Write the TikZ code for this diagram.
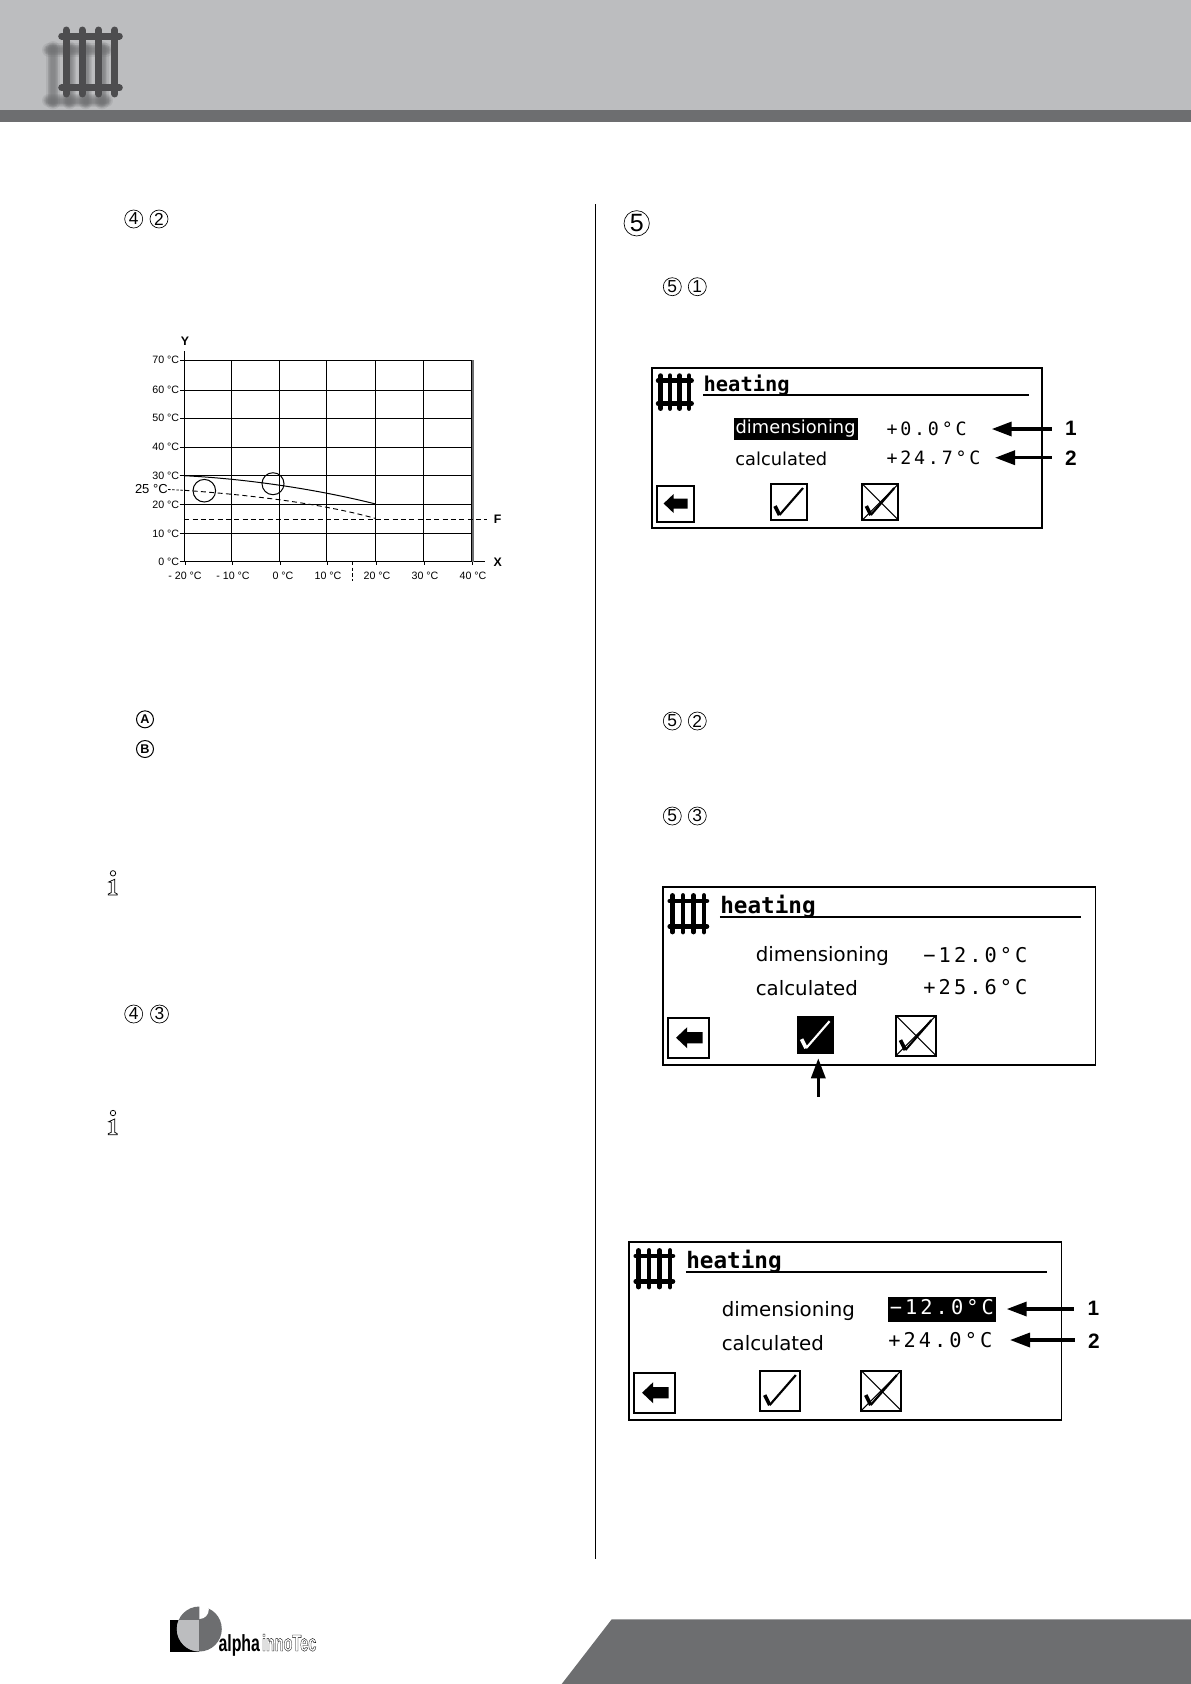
\documentclass[tikz,border=0pt]{standalone}
\usepackage{fontspec}
\setmainfont{Liberation Sans}
\newfontfamily\lcdfont{DejaVu Sans}
\newfontfamily\lcdnumfont{DejaVu Sans Mono}[LetterSpace=15]
\newfontfamily\lcdtitlefont{DejaVu Sans Mono}
\usetikzlibrary{arrows.meta}
\usetikzlibrary{positioning}
\definecolor{headgrey}{HTML}{BCBDBF}
\definecolor{bargrey}{HTML}{6D6E70}
\definecolor{radgrey}{HTML}{4D4D4F}
\tikzset{
	gridline/.style = {line width = 0.6pt},
	curveline/.style = {line width = 0.6pt},
	dashline/.style = {line width = 0.55pt, dash pattern = on 3pt off 2pt},
	axislabel/.style = {font = \fontsize{6.4}{7}\selectfont, inner sep = 0pt},
	axisletter/.style = {font = \fontsize{7.4}{8}\selectfont\bfseries, inner sep = 0pt},
	circnum/.style = {circle, draw, line width = 0.4pt, minimum size = 10.8pt, inner sep = 0pt, font = \fontsize{10.4}{11}\selectfont},
	circletter/.style = {circle, draw, line width = 0.6pt, minimum size = 10.2pt, inner sep = 0pt, font = \fontsize{7.6}{8}\selectfont\bfseries},
	lcdtext/.style = {anchor = west, inner sep = 0pt, font = \fontsize{10.7}{12}\lcdfont},
	lcdsel/.style = {lcdtext, fill = black, text = white, inner sep = 1.2pt, text height = 8.4pt, text depth = 2.6pt},
	lcdnum/.style = {anchor = west, inner sep = 0pt, font = \fontsize{11}{12}\lcdnumfont},
	lcdnumsel/.style = {lcdnum, fill = black, text = white, inner sep = 1.2pt, text height = 8.4pt, text depth = 2.6pt},
	scrarrow/.style = {line width = 2pt, -{Triangle[length = 12pt, width = 8.4pt]}},
	arrownum/.style = {font = \fontsize{12.5}{13}\selectfont\bfseries, inner sep = 0pt, minimum width = 23pt},
}
\newcommand{\radiator}[2]{\draw[#1] (0,-#2) -- (0,23+#2);
					\draw[#1] (9.4,-#2) -- (9.4,23+#2);
					\draw[#1] (19,-#2) -- (19,23+#2);
					\draw[#1] (28.4,-#2) -- (28.4,23+#2);
					\draw[#1] (-2.5,0) -- (31,0);
					\draw[#1] (-2.5,23) -- (31,23);}
\newcommand{\backbtn}{\draw[line width = 1.1pt] (0,0) rectangle (37,36);
					\fill (7,17.5) -- (17,8) -- (17,12.5) -- (31,12.5) -- (31,22.5) -- (17,22.5) -- (17,27) -- cycle;}
\newcommand{\checkbtn}[2]{\draw[line width = 1.1pt, fill = #1] (0,0) rectangle (36,36);
					\draw[#2, line width = 2.2pt] (4,22) -- (8.5,31);
					\draw[#2, line width = 1.3pt] (8.5,31) -- (32,4);}
\newcommand{\crossbtn}{\checkbtn{white}{black}
					\draw[line width = 0.6pt] (0,0) -- (36,36);
					\draw[line width = 0.6pt] (0,36) -- (36,0);}
\newcommand{\screenframe}{\begin{scope}[shift = {(8.3,12.3)}]
						\radiator{line width = 2.8pt, line cap = round}{5}
					\end{scope}
					\node[anchor = base west, inner sep = 0pt, font = \fontsize{12.25}{13}\lcdtitlefont\bfseries] (title) at (51,23.5) {heating};
					\draw[line width = 1.1pt] (51,26.7) -- (376.7,26.7);}
\newcommand{\infoicon}{\draw[line width = 0.45pt] (0,-10) circle (2.7);
					\draw[line width = 0.45pt, fill = white] (-4.3,-1.3) -- (1.7,-4) -- (1.7,9.3) -- (4.3,10.7) -- (4.3,11.7) -- (-4.7,11.7) -- (-4.7,10.7) -- (-1.7,9.3) -- (-1.7,-0.8) -- cycle;}

\begin{document}
\begin{tikzpicture}[x = 0.6pt, y = -0.6pt]
	\useasboundingbox (0,0) rectangle (1191,1684);

	\fill[headgrey] (0,0) rectangle (1191,110);
	\fill[bargrey] (0,110) rectangle (1191,122);

	\begin{scope}[shift = {(53,50)}, xscale = 1.72, yscale = 2.2]
		\foreach \wd in {8,6.5,5.5,4.5,3.5,2.5}{
			\radiator{bargrey, opacity = 0.16, line width = \wd pt, line cap = round}{1}
		}
	\end{scope}

	\begin{scope}[shift = {(66,36)}, xscale = 1.72, yscale = 2.26]
		\radiator{radgrey, line width = 4.2pt, line cap = round}{2.65}
	\end{scope}

	\fill[bargrey] (611.7,1619.3) -- (1191,1619.3) -- (1191,1684) -- (561.7,1684) -- cycle;

	\draw[line width = 0.7pt] (595.3,204) -- (595.3,1559);

	% markers left column
	\node[circnum] (fourA) at (133.7,219) {4};
	\node[circnum] (twoA) at (159,219) {2};
	\node[circletter] (letA) at (145,719.3) {A};
	\node[circletter] (letB) at (145,749) {B};
	\node[circnum] (fourB) at (133.7,1014) {4};
	\node[circnum] (threeB) at (159.5,1014) {3};

	\begin{scope}[shift = {(113,883.3)}]
		\infoicon
	\end{scope}

	\begin{scope}[shift = {(113,1123)}]
		\infoicon
	\end{scope}

	% markers right column
	\node[circnum, minimum size = 15.2pt, font = \fontsize{15}{16}\selectfont] (bigfive) at (636.7,223.3) {5};
	\node[circnum] (fiveA) at (672.3,286.7) {5};
	\node[circnum] (oneA) at (697.3,286.7) {1};
	\node[circnum] (fiveB) at (672.3,721) {5};
	\node[circnum] (twoB) at (697.3,721) {2};
	\node[circnum] (fiveC) at (672.3,816) {5};
	\node[circnum] (threeC) at (697.3,816) {3};

	% chart
	\foreach \px in {184.3,231.3,279.3,326.3,375.7,423.3,471.7}{
		\draw[gridline] (\px,360.3) -- (\px,561.7);
		\draw[gridline] (\px+1,561.7) -- (\px+1,565);
	}
	\foreach \py in {360.3,390.3,418.3,447.3,475.7,504.7,533.7}{
		\draw[gridline] (179.5,\py) -- (471.7,\py);
	}
	\draw[gridline] (179.5,561.7) -- (485,561.7);
	\draw[gridline] (184.3,351) -- (184.3,561.7);
	\draw[line width = 0.9pt, bargrey] (473.2,360.3) -- (473.2,561.7);

	\foreach \py/\yt/\yn in {360.3/70/ya,390.3/60/yb,418.3/50/yc,447.3/40/yd,475.7/30/ye,504.7/20/yf,533.7/10/yg,561.7/0/yh}{
		\node[axislabel, anchor = east] (\yn) at (179.5,\py) {\yt~°C};
	}
	\foreach \px/\xt/\xn in {185/- 20/xa,233/- 10/xb,283/0/xc,328/10/xd,377/20/xe,425/30/xf,473/40/xg}{
		\node[axislabel] (\xn) at (\px,575.7) {\xt~°C};
	}
	\node[axisletter] (lety) at (185,341) {Y};
	\node[axisletter] (letx) at (497.7,562.3) {X};
	\node[axisletter] (letf) at (497.7,519.3) {F};
	\node[axislabel, anchor = east, font = \fontsize{7.8}{9}\selectfont] (twofive) at (168,489.5) {25 °C};

	\draw[curveline] (184.3,475.7) .. controls (250,479) and (320,490) .. (375.7,504);
	\draw[dashline] (184.3,490.3) .. controls (250,495) and (320,503) .. (375.7,518.5);
	\draw[dashline] (184.3,519.3) -- (487,519.3);
	\draw[line width = 0.5pt, dash pattern = on 1.5pt off 1pt] (twofive.east) -- (184.3,490.3);
	\draw[line width = 0.5pt, dash pattern = on 2pt off 1.5pt] (352.5,561.7) -- (352.5,581);
	\draw[curveline] (204.3,490.7) circle (11.3);
	\draw[curveline] (273,483.7) circle (11);

	% first screen
	\begin{scope}[shift = {(652.3,368.3)}, transform shape]
		\draw[line width = 1.1pt] (0,0) rectangle (389.4,160);
		\screenframe
		\node[lcdsel] (dimone) at (81,60.7) {dimensioning};
		\node[lcdtext] (calcone) at (82.7,90.7) {calculated};
		\node[lcdnum] (valone) at (234,60.7) {+0.0°C};
		\node[lcdnum] (valtwo) at (234,90) {+24.7°C};
		\begin{scope}[shift = {(4.3,117.7)}]
			\backbtn
		\end{scope}
		\begin{scope}[shift = {(118.7,115.7)}]
			\checkbtn{white}{black}
		\end{scope}
		\begin{scope}[shift = {(210,115.7)}]
			\crossbtn
		\end{scope}
	\end{scope}
	\coordinate (tipone) at (991.7,429);
	\coordinate (tiptwo) at (995,457.7);
	\node[arrownum] (numone) at (1071,428) {1};
	\node[arrownum] (numtwo) at (1071,458) {2};
	\draw[scrarrow] (numone.west |- tipone) -- (tipone);
	\draw[scrarrow] (numtwo.west |- tiptwo) -- (tiptwo);

	% second screen
	\begin{scope}[shift = {(663.3,887.3)}, scale = 1.11, transform shape]
		\draw[line width = 1.1pt] (0,0) rectangle (389.4,160);
		\screenframe
		\node[lcdtext] (dimthree) at (83,61.5) {dimensioning};
		\node[lcdtext] (calcthree) at (83,91) {calculated};
		\node[lcdnum] (valthree) at (234,61.5) {−12.0°C};
		\node[lcdnum] (valfour) at (234,90) {+25.6°C};
		\begin{scope}[shift = {(4.5,118)}]
			\backbtn
		\end{scope}
		\begin{scope}[shift = {(121,117)}, scale = 0.9]
			\checkbtn{black}{white}
		\end{scope}
		\begin{scope}[shift = {(209.6,115.6)}]
			\crossbtn
		\end{scope}
	\end{scope}
	\coordinate (tipthree) at (818.3,1058.3);
	\coordinate (tailthree) at (818.3,1096.7);
	\draw[scrarrow] (tailthree) -- (tipthree);

	% third screen
	\begin{scope}[shift = {(629.3,1242.3)}, scale = 1.11, transform shape]
		\draw[line width = 1.1pt] (0,0) rectangle (389.4,160);
		\screenframe
		\node[lcdtext] (dimfive) at (83,61.5) {dimensioning};
		\node[lcdtext] (calcfive) at (83,91) {calculated};
		\node[lcdnumsel] (valfive) at (232.4,60.4) {−12.0°C};
		\node[lcdnum] (valsix) at (233,88) {+24.0°C};
		\begin{scope}[shift = {(4.5,118)}]
			\backbtn
		\end{scope}
		\begin{scope}[shift = {(118,115.6)}]
			\checkbtn{white}{black}
		\end{scope}
		\begin{scope}[shift = {(209,115.6)}]
			\crossbtn
		\end{scope}
	\end{scope}
	\coordinate (tipfour) at (1006.7,1309);
	\coordinate (tipfive) at (1010,1340);
	\node[arrownum] (numthree) at (1093.3,1308) {1};
	\node[arrownum] (numfour) at (1094,1341) {2};
	\draw[scrarrow] (numthree.west |- tipfour) -- (tipfour);
	\draw[scrarrow] (numfour.west |- tipfive) -- (tipfive);

	% logo
	\fill[black] (170,1620) rectangle (199.3,1651.7);
	\fill[bargrey] (199.3,1629) circle (22.5);
	\begin{scope}
		\clip (199.3,1629) circle (22.5);
		\fill[headgrey] (170,1620) rectangle (199.3,1655);
	\end{scope}
	\fill[white] (199.3,1619) arc (90:-90:9.5) -- cycle;
	\node[anchor = base west, inner sep = 0pt, font = \fontsize{14}{15}\selectfont\bfseries, xscale = 0.68] (alpha) at (218.3,1651) {alpha};
	\node[anchor = base west, inner sep = 0pt, font = \fontsize{14}{15}\selectfont\bfseries, xscale = 0.62] (inno) at (261.7,1651) {\special{pdf:code q 1 Tr 0.25 w}innoTec\special{pdf:code Q}};
\end{tikzpicture}
\end{document}
